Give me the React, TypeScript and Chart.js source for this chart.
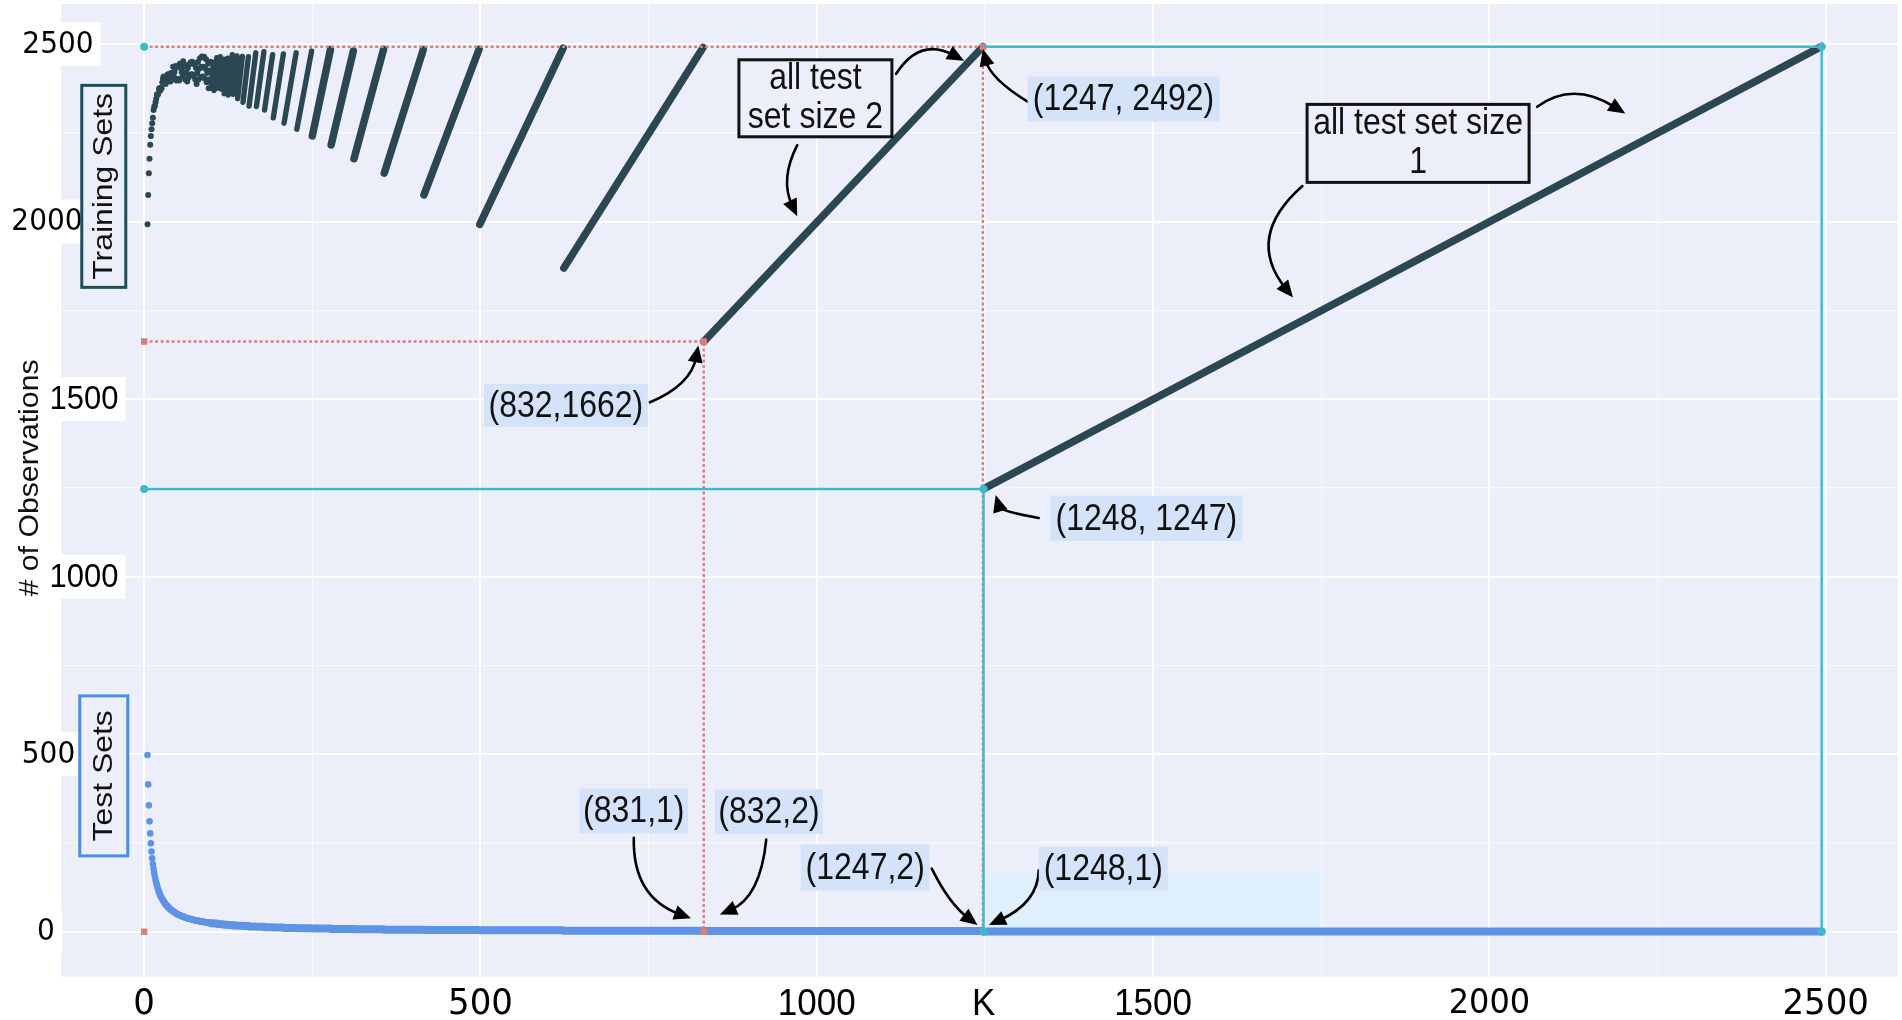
import React, { useEffect, useRef } from 'react';
import { Chart, registerables } from 'chart.js';

Chart.register(...registerables);

// ---------------- data ----------------
// number of folds K (individually visible points, K = 5 .. 99)
const dotK = [
  5, 6, 7, 8, 9, 10, 11, 12, 13, 14, 15, 16, 17, 18, 19, 20, 21, 22, 23, 24,
  25, 26, 27, 28, 29, 30, 31, 32, 33, 34, 35, 36, 37, 38, 39, 40, 41, 42, 43, 44,
  45, 46, 47, 48, 49, 50, 51, 52, 53, 54, 55, 56, 57, 58, 59, 60, 61, 62, 63, 64,
  65, 66, 67, 68, 69, 70, 71, 72, 73, 74, 75, 76, 77, 78, 79, 80, 81, 82, 83, 84,
  85, 86, 87, 88, 89, 90, 91, 92, 93, 94, 95, 96, 97, 98, 99,
];
// training-set sizes at those K
const trainDots = [
  1992, 2075, 2136, 2177, 2216, 2241, 2260, 2277, 2292, 2314,
  2324, 2325, 2336, 2346, 2358, 2356, 2360, 2373, 2376, 2369,
  2376, 2375, 2392, 2403, 2408, 2407, 2400, 2387, 2400, 2409,
  2414, 2415, 2412, 2405, 2394, 2418, 2400, 2419, 2436, 2408,
  2420, 2430, 2438, 2397, 2400, 2401, 2400, 2397, 2444, 2438,
  2430, 2420, 2408, 2451, 2436, 2419, 2400, 2440, 2418, 2394,
  2432, 2405, 2442, 2412, 2448, 2415, 2450, 2414, 2448, 2409,
  2442, 2400, 2432, 2387, 2418, 2449, 2400, 2430, 2460, 2407,
  2436, 2465, 2408, 2436, 2464, 2403, 2430, 2457, 2392, 2418,
  2444, 2375, 2400, 2425, 2450,
];
// test-set sizes at those K
const testDots = [
  498, 415, 356, 311, 277, 249, 226, 207, 191, 178,
  166, 155, 146, 138, 131, 124, 118, 113, 108, 103,
  99, 95, 92, 89, 86, 83, 80, 77, 75, 73,
  71, 69, 67, 65, 63, 62, 60, 59, 58, 56,
  55, 54, 53, 51, 50, 49, 48, 47, 47, 46,
  45, 44, 43, 43, 42, 41, 40, 40, 39, 38,
  38, 37, 37, 36, 36, 35, 35, 34, 34, 33,
  33, 32, 32, 31, 31, 31, 30, 30, 30, 29,
  29, 29, 28, 28, 28, 27, 27, 27, 26, 26,
  26, 25, 25, 25, 25,
];

// runs of K sharing one test-set size (drawn as continuous strokes)
const segTestSize = [1, 2, 3, 4, 5, 6, 7, 8, 9, 10, 11, 12, 13, 14, 15, 16, 17, 18, 19, 20, 21, 22, 23, 24];
const segKStart = [1248, 832, 624, 499, 416, 357, 312, 278, 250, 227, 208, 192, 179, 167, 156, 147, 139, 132, 125, 119, 114, 109, 104, 100];
const segKEnd = [2494, 1247, 831, 623, 498, 415, 356, 311, 277, 249, 226, 207, 191, 178, 166, 155, 146, 138, 131, 124, 118, 113, 108, 103];
const segTrainStart = [1247, 1662, 1869, 1992, 2075, 2136, 2177, 2216, 2241, 2260, 2277, 2292, 2314, 2324, 2325, 2336, 2346, 2358, 2356, 2360, 2373, 2376, 2369, 2376];
const segTrainEnd = [2493, 2492, 2490, 2488, 2485, 2484, 2485, 2480, 2484, 2480, 2475, 2472, 2470, 2478, 2475, 2464, 2465, 2466, 2470, 2460, 2457, 2464, 2461, 2448];

// reference guide paths
const redPaths = [
  [[0, 2492], [1247, 2492], [1247, 0]],
  [[0, 1662], [832, 1662], [832, 0]],
  [[0, 0]],
];
const redMarkerOn = [
  [false, true, true],
  [true, true, true],
  [true],
];
const cyanPaths = [
  [[0, 2492]],
  [[0, 1247], [1248, 1247], [1248, 0]],
  [[1247, 2492], [2494, 2492], [2494, 0]],
];
const cyanMarkerOn = [
  [true],
  [true, true, true],
  [false, true, true],
];

// axes
const gridSteps = [0, 250, 500, 750, 1000, 1250, 1500, 1750, 2000, 2250, 2500];
const xTickValues = [0, 500, 1000, 1248, 1500, 2000, 2500];
const xTickLabels = ['0', '500', '1000', 'K', '1500', '2000', '2500'];
const yTickValues = [0, 500, 1000, 1500, 2000, 2500];
const yTickLabels = ['0', '500', '1000', '1500', '2000', '2500'];
const X_MIN = -123.6;
const X_MAX = 2607.5;
const Y_MIN = -125.9;
const Y_MAX = 2612.5;

// ---------------- styles ----------------
const PLOT_BG = '#ECEFF9';
const TRAIN_COLOR = '#2B4753';
const TEST_COLOR = '#5F93E6';
const RED = '#DE7D7D';
const CYAN = '#3EB9CA';
const ROUND_FONT = '"DejaVu Sans", sans-serif';
const HELV_FONT = '"Liberation Sans", Arial, sans-serif';
const LONG_RUNS = 9; // first runs drawn with the wide stroke

const xLabelFont: Record<string, { family: string; size: number }> = {
  '0': { family: ROUND_FONT, size: 34 },
  '500': { family: ROUND_FONT, size: 34 },
  '1000': { family: HELV_FONT, size: 35 },
  K: { family: HELV_FONT, size: 35 },
  '1500': { family: HELV_FONT, size: 35 },
  '2000': { family: ROUND_FONT, size: 32 },
  '2500': { family: ROUND_FONT, size: 34 },
};
const yLabelStyle: Record<string, { family: string; size: number; dx: number }> = {
  '0': { family: ROUND_FONT, size: 28, dx: -15 },
  '500': { family: ROUND_FONT, size: 28, dx: -12.5 },
  '1000': { family: HELV_FONT, size: 31, dx: 23 },
  '1500': { family: HELV_FONT, size: 31, dx: 23 },
  '2000': { family: ROUND_FONT, size: 28, dx: -14 },
  '2500': { family: ROUND_FONT, size: 28, dx: -3 },
};

// annotations (anchored in data units)
const boxNotes = [
  { x: 998, y: 2347, w: 153, h: 77, lines: ['all test', 'set size 2'], border: '#111111', rot: false },
  { x: 1894, y: 2220, w: 222, h: 78, lines: ['all test set size', '1'], border: '#111111', rot: false },
  { x: -60, y: 2099, w: 44, h: 202, lines: ['Training Sets'], border: '#1D4E5B', rot: true },
  { x: -60, y: 439, w: 48, h: 160, lines: ['Test Sets'], border: '#4A8CE3', rot: true },
];
const pointLabels = [
  { text: '(1247, 2492)', x: 1456, y: 2345, w: 192, h: 45 },
  { text: '(832,1662)', x: 627, y: 1482, w: 164, h: 43 },
  { text: '(1248, 1247)', x: 1490, y: 1164, w: 192, h: 45 },
  { text: '(831,1)', x: 728, y: 340, w: 109, h: 45 },
  { text: '(832,2)', x: 929, y: 338, w: 108, h: 45 },
  { text: '(1247,2)', x: 1072, y: 181, w: 129, h: 46 },
  { text: '(1248,1)', x: 1426, y: 178, w: 129, h: 44 },
];
const arrows = [
  [[1118, 2416], [1153, 2520], [1219, 2453]],
  [[971, 2215], [945, 2119], [971, 2015]],
  [[1314, 2337], [1258, 2402], [1247, 2486]],
  [[2071, 2323], [2124, 2397], [2202, 2304]],
  [[1722, 2100], [1636, 1956], [1708, 1786]],
  [[752, 1491], [813, 1540], [824, 1651]],
  [[1330, 1165], [1273, 1184], [1266, 1230]],
  [[728, 265], [726, 98], [813, 38]],
  [[925, 260], [916, 96], [856, 49]],
  [[1171, 178], [1197, 79], [1239, 19]],
  [[1330, 173], [1329, 82], [1256, 19]],
];
const highlightRect = { x0: 1252, x1: 1750, y0: 0, y1: 166 };

// ---------------- helpers ----------------
type Pt = { x: number; y: number | null };

function segmentData(y0: number[], y1: number[], from: number, to: number): Pt[] {
  const out: Pt[] = [];
  segKStart.forEach((k0, i) => {
    if (i < from || i >= to) return;
    out.push({ x: k0, y: y0[i] });
    out.push({ x: segKEnd[i], y: y1[i] });
    out.push({ x: segKEnd[i], y: null });
  });
  return out;
}

function pathData(paths: number[][][], on: boolean[][], r: number) {
  const data: Pt[] = [];
  const radii: number[] = [];
  paths.forEach((p, i) => {
    p.forEach((pt, j) => {
      data.push({ x: pt[0], y: pt[1] });
      radii.push(on[i][j] ? r : 0);
    });
    data.push({ x: p[p.length - 1][0], y: null });
    radii.push(0);
  });
  return { data, radii };
}

function drawText(
  ctx: CanvasRenderingContext2D,
  text: string,
  x: number,
  y: number,
  font: string,
  stretch = 1,
  rot = 0,
  color = '#000',
  align: CanvasTextAlign = 'center'
) {
  ctx.save();
  ctx.translate(x, y);
  if (rot) {
    ctx.rotate(rot);
    ctx.scale(stretch, 1);
  } else {
    ctx.scale(1, stretch);
  }
  ctx.font = font;
  ctx.textAlign = align;
  ctx.textBaseline = 'middle';
  ctx.fillStyle = color;
  ctx.fillText(text, 0, 0);
  ctx.restore();
}

const decorPlugin = {
  id: 'decor',
  beforeDraw(chart: any) {
    const { ctx, chartArea, width, height } = chart;
    ctx.save();
    ctx.fillStyle = '#FFFFFF';
    ctx.fillRect(0, 0, width, height);
    ctx.fillStyle = PLOT_BG;
    ctx.fillRect(chartArea.left, chartArea.top, chartArea.right - chartArea.left, chartArea.bottom - chartArea.top);
    ctx.restore();
  },
  beforeDatasetsDraw(chart: any) {
    const { ctx, scales } = chart;
    const xs = scales.x;
    const ys = scales.y;
    ctx.save();
    ctx.fillStyle = '#DDF0FB';
    const l = xs.getPixelForValue(highlightRect.x0);
    const r = xs.getPixelForValue(highlightRect.x1);
    const t = ys.getPixelForValue(highlightRect.y1);
    const b = ys.getPixelForValue(highlightRect.y0);
    ctx.fillRect(l, t, r - l, b - t);
    ctx.restore();
  },
  afterDatasetsDraw(chart: any) {
    const { ctx, scales, chartArea } = chart;
    const xs = scales.x;
    const ys = scales.y;
    const px = (p: number[]) => [xs.getPixelForValue(p[0]), ys.getPixelForValue(p[1])];

    // y tick labels with white backdrop
    yTickValues.forEach((v, i) => {
      const lab = yTickLabels[i];
      const st = yLabelStyle[lab];
      const cx = chartArea.left + st.dx;
      const cy = ys.getPixelForValue(v);
      ctx.save();
      ctx.font = `${st.size}px ${st.family}`;
      const w = ctx.measureText(lab).width;
      ctx.fillStyle = '#FFFFFF';
      ctx.fillRect(cx - w / 2 - 5, cy - 22, w + 12, 44);
      ctx.restore();
      drawText(ctx, lab, cx, cy + 1, `${st.size}px ${st.family}`, 1.05);
    });

    // x tick labels
    xTickValues.forEach((v, i) => {
      const lab = xTickLabels[i];
      const f = xLabelFont[lab];
      drawText(ctx, lab, xs.getPixelForValue(v), chartArea.bottom + 28, `${f.size}px ${f.family}`, 1.05);
    });

    // y axis title
    drawText(
      ctx,
      '# of Observations',
      chartArea.left - 31,
      ys.getPixelForValue(1278),
      `28px ${HELV_FONT}`,
      1.08,
      -Math.PI / 2,
      '#111'
    );

    // arrows
    arrows.forEach((a) => {
      const p0 = px(a[0]);
      const c = px(a[1]);
      const p2 = px(a[2]);
      const ang = Math.atan2(p2[1] - c[1], p2[0] - c[0]);
      const headLen = 17;
      const headW = 7.5;
      const ex = p2[0] - Math.cos(ang) * headLen * 0.7;
      const ey = p2[1] - Math.sin(ang) * headLen * 0.7;
      ctx.save();
      ctx.strokeStyle = '#000';
      ctx.lineWidth = 2.6;
      ctx.lineCap = 'round';
      ctx.beginPath();
      ctx.moveTo(p0[0], p0[1]);
      ctx.quadraticCurveTo(c[0], c[1], ex, ey);
      ctx.stroke();
      const bx = p2[0] - Math.cos(ang) * headLen;
      const by = p2[1] - Math.sin(ang) * headLen;
      ctx.fillStyle = '#000';
      ctx.beginPath();
      ctx.moveTo(p2[0], p2[1]);
      ctx.lineTo(bx - Math.sin(ang) * headW, by + Math.cos(ang) * headW);
      ctx.lineTo(bx + Math.sin(ang) * headW, by - Math.cos(ang) * headW);
      ctx.closePath();
      ctx.fill();
      ctx.restore();
    });

    // coordinate labels
    pointLabels.forEach((lb) => {
      const [cx, cy] = px([lb.x, lb.y]);
      ctx.save();
      ctx.fillStyle = '#D5E3FA';
      ctx.fillRect(cx - lb.w / 2, cy - lb.h / 2, lb.w, lb.h);
      ctx.restore();
      drawText(ctx, lb.text, cx, cy + 1, `32px ${HELV_FONT}`, 1.18, 0, '#111');
    });

    // boxed notes
    boxNotes.forEach((bn) => {
      const [cx, cy] = px([bn.x, bn.y]);
      ctx.save();
      ctx.fillStyle = PLOT_BG;
      ctx.fillRect(cx - bn.w / 2, cy - bn.h / 2, bn.w, bn.h);
      ctx.strokeStyle = bn.border;
      ctx.lineWidth = 3;
      ctx.strokeRect(cx - bn.w / 2, cy - bn.h / 2, bn.w, bn.h);
      ctx.restore();
      if (bn.rot) {
        drawText(ctx, bn.lines[0], cx + 1, cy, `28px ${HELV_FONT}`, 1.14, -Math.PI / 2, '#111');
      } else {
        const lh = 39;
        bn.lines.forEach((ln, i) => {
          const oy = (i - (bn.lines.length - 1) / 2) * lh;
          drawText(ctx, ln, cx, cy + oy, `32px ${HELV_FONT}`, 1.15, 0, '#111');
        });
      }
    });
  },
};

export default function App() {
  const canvasRef = useRef<HTMLCanvasElement | null>(null);

  useEffect(() => {
    if (!canvasRef.current) return;
    const red = pathData(redPaths, redMarkerOn, 4.5);
    const cyan = pathData(cyanPaths, cyanMarkerOn, 4);
    const nRuns = segKStart.length;

    const chart = new Chart(canvasRef.current, {
      type: 'scatter',
      data: {
        datasets: [
          {
            label: 'Test sets (runs)',
            data: segmentData(segTestSize, segTestSize, 0, nRuns) as any,
            showLine: true,
            spanGaps: false,
            borderColor: TEST_COLOR,
            borderWidth: 8,
            borderCapStyle: 'round',
            pointRadius: 0,
            order: 10,
          } as any,
          {
            label: 'Test sets',
            data: dotK.map((k, i) => ({ x: k, y: testDots[i] })),
            backgroundColor: TEST_COLOR,
            borderWidth: 0,
            pointRadius: 3.3,
            order: 9,
          },
          {
            label: 'Training sets (long runs)',
            data: segmentData(segTrainStart, segTrainEnd, 0, LONG_RUNS) as any,
            showLine: true,
            spanGaps: false,
            borderColor: TRAIN_COLOR,
            borderWidth: 7.5,
            borderCapStyle: 'round',
            pointRadius: 0,
            order: 8,
          } as any,
          {
            label: 'Training sets (short runs)',
            data: segmentData(segTrainStart, segTrainEnd, LONG_RUNS, nRuns) as any,
            showLine: true,
            spanGaps: false,
            borderColor: TRAIN_COLOR,
            borderWidth: 5.4,
            borderCapStyle: 'round',
            pointRadius: 0,
            order: 8,
          } as any,
          {
            label: 'Training sets',
            data: dotK.map((k, i) => ({ x: k, y: trainDots[i] })),
            backgroundColor: TRAIN_COLOR,
            borderWidth: 0,
            pointRadius: 3,
            order: 7,
          },
          {
            label: 'test size 2 guides',
            data: red.data as any,
            showLine: true,
            spanGaps: false,
            borderColor: RED,
            borderWidth: 2.4,
            borderDash: [3, 2.5],
            pointStyle: 'rect',
            pointRadius: red.radii,
            pointBackgroundColor: RED,
            pointBorderWidth: 0,
            order: 5,
          } as any,
          {
            label: 'test size 1 guides',
            data: cyan.data as any,
            showLine: true,
            spanGaps: false,
            borderColor: CYAN,
            borderWidth: 2.4,
            pointRadius: cyan.radii,
            pointBackgroundColor: CYAN,
            pointBorderWidth: 0,
            order: 4,
          } as any,
        ],
      },
      options: {
        animation: false,
        responsive: false,
        maintainAspectRatio: false,
        devicePixelRatio: 1,
        layout: { padding: 0 },
        plugins: {
          legend: { display: false },
          tooltip: { enabled: false },
        },
        scales: {
          x: {
            type: 'linear',
            min: X_MIN,
            max: X_MAX,
            afterBuildTicks: (s: any) => {
              s.ticks = gridSteps.map((v) => ({ value: v }));
            },
            afterFit: (s: any) => {
              s.height = 43.5;
            },
            ticks: { display: false },
            border: { display: false },
            grid: {
              drawTicks: false,
              color: (c: any) => (c.tick && c.tick.value % 500 === 0 ? '#FFFFFF' : 'rgba(255,255,255,0.7)'),
              lineWidth: (c: any) => (c.tick && c.tick.value % 500 === 0 ? 2 : 1.2),
            },
          },
          y: {
            type: 'linear',
            min: Y_MIN,
            max: Y_MAX,
            afterBuildTicks: (s: any) => {
              s.ticks = gridSteps.map((v) => ({ value: v }));
            },
            afterFit: (s: any) => {
              s.width = 61;
            },
            ticks: { display: false },
            border: { display: false },
            grid: {
              drawTicks: false,
              color: (c: any) => (c.tick && c.tick.value % 500 === 0 ? '#FFFFFF' : 'rgba(255,255,255,0.7)'),
              lineWidth: (c: any) => (c.tick && c.tick.value % 500 === 0 ? 2 : 1.2),
            },
          },
        },
      } as any,
      plugins: [decorPlugin],
    });
    return () => chart.destroy();
  }, []);

  return (
    <div style={{ position: 'fixed', left: 0, top: 0, width: 1902, height: 1020, background: '#fff' }}>
      <canvas ref={canvasRef} width={1902} height={1020} style={{ width: 1902, height: 1020, display: 'block' }} />
    </div>
  );
}
